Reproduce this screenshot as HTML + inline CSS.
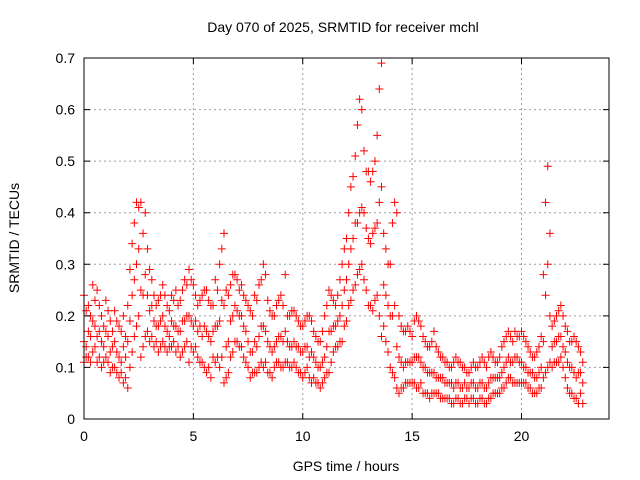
<!DOCTYPE html>
<html><head><meta charset="utf-8"><style>
html,body{margin:0;padding:0;background:#fff}
svg{display:block;font-family:"Liberation Sans",sans-serif}
</style></head><body>
<svg id="chart" width="640" height="480" viewBox="0 0 640 480">
<rect width="640" height="480" fill="#fff"/>
<g id="grid"></g>
<g id="pts"></g>
<g id="axes"></g>
<text x="343" y="32" font-size="14" text-anchor="middle">Day 070 of 2025, SRMTID for receiver mchl</text>
<text x="346" y="471" font-size="14" text-anchor="middle">GPS time / hours</text>
<text transform="translate(19,238) rotate(-90)" font-size="14" text-anchor="middle">SRMTID / TECUs</text>
</svg>
<script>
const times=[0.0,0.2,0.4,0.6,0.8,1.0,1.2,1.4,1.6,1.8,2.0,2.2,2.4,2.6,2.8,3.0,3.2,3.4,3.6,3.8,4.0,4.2,4.4,4.6,4.8,5.0,5.2,5.4,5.6,5.8,6.0,6.2,6.4,6.6,6.8,7.0,7.2,7.4,7.6,7.8,8.0,8.2,8.4,8.6,8.8,9.0,9.2,9.4,9.6,9.8,10.0,10.2,10.4,10.6,10.8,11.0,11.2,11.4,11.6,11.8,12.0,12.2,12.4,12.6,12.8,13.0,13.2,13.4,13.6,13.8,14.0,14.2,14.4,14.6,14.8,15.0,15.2,15.4,15.6,15.8,16.0,16.2,16.4,16.6,16.8,17.0,17.2,17.4,17.6,17.8,18.0,18.2,18.4,18.6,18.8,19.0,19.2,19.4,19.6,19.8,20.0,20.2,20.4,20.6,20.8,21.0,21.2,21.4,21.6,21.8,22.0,22.2,22.4,22.6,22.8];
const hiVals=[.24,.22,.26,.25,.20,.23,.19,.21,.18,.20,.22,.34,.42,.42,.40,.29,.24,.23,.26,.22,.24,.25,.23,.27,.29,.26,.22,.24,.25,.22,.27,.30,.36,.24,.28,.27,.26,.23,.21,.24,.26,.30,.23,.20,.22,.24,.28,.20,.21,.19,.18,.20,.19,.16,.15,.20,.25,.23,.24,.30,.35,.45,.51,.62,.52,.48,.48,.55,.69,.33,.30,.42,.20,.17,.18,.16,.20,.18,.15,.14,.17,.13,.12,.11,.10,.12,.11,.10,.09,.11,.10,.12,.10,.13,.11,.12,.15,.17,.15,.16,.17,.15,.13,.12,.14,.28,.49,.18,.20,.22,.18,.15,.16,.14,.11];
const midVals=[.15,.17,.19,.16,.15,.17,.13,.15,.12,.14,.15,.24,.30,.25,.28,.21,.19,.18,.20,.17,.19,.18,.17,.19,.20,.18,.17,.16,.17,.15,.18,.19,.22,.15,.20,.21,.20,.17,.13,.15,.16,.18,.15,.13,.15,.16,.17,.14,.15,.14,.13,.14,.13,.11,.10,.12,.17,.18,.19,.22,.27,.33,.38,.40,.40,.35,.36,.38,.45,.24,.20,.22,.12,.10,.11,.11,.12,.11,.10,.09,.09,.08,.08,.07,.07,.07,.06,.07,.06,.07,.06,.07,.06,.08,.08,.08,.10,.12,.11,.12,.11,.10,.09,.08,.09,.15,.30,.14,.15,.16,.13,.10,.09,.09,.07];
const loVals=[.11,.12,.13,.11,.10,.12,.09,.10,.08,.07,.06,.13,.18,.12,.16,.15,.14,.13,.15,.13,.14,.13,.12,.14,.11,.13,.12,.11,.09,.08,.11,.10,.07,.09,.13,.15,.14,.11,.08,.09,.10,.10,.09,.08,.11,.10,.11,.10,.11,.09,.08,.10,.07,.07,.06,.08,.09,.13,.14,.15,.19,.23,.26,.29,.27,.22,.21,.24,.16,.15,.10,.08,.05,.06,.07,.07,.06,.07,.05,.04,.05,.05,.04,.04,.03,.04,.03,.04,.03,.04,.03,.04,.03,.04,.05,.05,.06,.08,.07,.07,.07,.07,.06,.05,.06,.08,.10,.10,.11,.12,.08,.05,.04,.03,.03];
const times2=[0.1,0.3,0.5,0.7,0.9,1.1,1.3,1.5,1.7,1.9,2.1,2.3,2.5,2.7,2.9,3.1,3.3,3.5,3.7,3.9,4.1,4.3,4.5,4.7,4.9,5.1,5.3,5.5,5.7,5.9,6.1,6.3,6.5,6.7,6.9,7.1,7.3,7.5,7.7,7.9,8.1,8.3,8.5,8.7,8.9,9.1,9.3,9.5,9.7,9.9,10.1,10.3,10.5,10.7,10.9,11.1,11.3,11.5,11.7,11.9,12.1,12.3,12.5,12.7,12.9,13.1,13.3,13.5,13.7,13.9,14.1,14.3,14.5,14.7,14.9,15.1,15.3,15.5,15.7,15.9,16.1,16.3,16.5,16.7,16.9,17.1,17.3,17.5,17.7,17.9,18.1,18.3,18.5,18.7,18.9,19.1,19.3,19.5,19.7,19.9,20.1,20.3,20.5,20.7,20.9,21.1,21.3,21.5,21.7,21.9,22.1,22.3,22.5,22.7];
const hiVals2=[.21,.20,.23,.22,.18,.21,.17,.19,.17,.16,.29,.38,.41,.36,.33,.27,.22,.24,.24,.21,.23,.22,.25,.26,.27,.24,.23,.25,.23,.22,.25,.33,.25,.26,.28,.25,.24,.22,.20,.23,.27,.28,.21,.20,.23,.22,.20,.21,.20,.18,.19,.20,.17,.15,.17,.22,.24,.22,.27,.33,.40,.47,.57,.60,.48,.46,.50,.64,.36,.30,.38,.40,.18,.17,.17,.19,.19,.16,.14,.15,.14,.12,.11,.10,.11,.11,.10,.09,.10,.10,.11,.11,.12,.12,.11,.14,.16,.16,.17,.16,.16,.14,.12,.13,.16,.42,.36,.19,.21,.20,.17,.15,.15,.13];
const midVals2=[.14,.16,.18,.17,.14,.16,.14,.13,.11,.12,.19,.27,.33,.24,.24,.22,.18,.19,.18,.16,.18,.17,.19,.20,.19,.19,.18,.18,.16,.17,.18,.23,.14,.19,.22,.20,.18,.15,.13,.14,.18,.17,.14,.14,.16,.15,.15,.14,.14,.13,.14,.12,.12,.10,.11,.14,.17,.18,.20,.25,.30,.35,.38,.41,.37,.34,.37,.42,.26,.22,.20,.14,.11,.11,.11,.12,.12,.10,.09,.09,.08,.08,.07,.07,.06,.07,.06,.06,.07,.06,.07,.06,.07,.08,.08,.09,.11,.11,.12,.11,.10,.09,.09,.08,.10,.24,.20,.15,.16,.14,.11,.10,.08,.09];
const loVals2=[.12,.11,.14,.12,.11,.11,.10,.09,.09,.08,.10,.16,.20,.14,.17,.16,.15,.14,.14,.14,.15,.14,.13,.15,.14,.14,.11,.10,.10,.12,.12,.12,.08,.12,.15,.14,.12,.10,.09,.09,.11,.11,.09,.10,.11,.10,.11,.10,.10,.09,.09,.08,.08,.07,.07,.09,.11,.14,.15,.18,.22,.25,.28,.30,.25,.22,.23,.20,.18,.13,.09,.06,.06,.07,.07,.07,.06,.05,.05,.05,.05,.04,.04,.04,.03,.04,.03,.04,.04,.03,.04,.03,.04,.05,.05,.06,.07,.08,.07,.07,.07,.06,.05,.05,.06,.09,.11,.11,.11,.10,.06,.05,.04,.05];
const xTicks=[0,5,10,15,20];
const yTicks=[0,0.1,0.2,0.3,0.4,0.5,0.6,0.7];
const yTickLabels=["0","0.1","0.2","0.3","0.4","0.5","0.6","0.7"];

const L=84,R=609,T=58,B=419,XMAX=24,YMAX=0.7;
const xs=v=>L+v/XMAX*(R-L);
const ys=v=>B-v/YMAX*(B-T);
const NS="http://www.w3.org/2000/svg";
function mk(tag,parent,attrs){const e=document.createElementNS(NS,tag);for(const k in attrs)e.setAttribute(k,attrs[k]);parent.appendChild(e);return e;}
const grid=document.getElementById('grid'),axes=document.getElementById('axes'),pts=document.getElementById('pts');
xTicks.forEach(t=>{
  const x=xs(t);
  if(t>0){const g=mk('line',grid,{x1:x,x2:x,y1:T,y2:B,stroke:'#a0a0a0','stroke-dasharray':'2,3'});
  
  }
  const tk=mk('path',axes,{d:`M${x},${B}v-6M${x},${T}v6`,stroke:'#000'});
  
  
  const lb=mk('text',axes,{x:x,y:B+22,'font-size':14,'text-anchor':'middle'});lb.textContent=t;
  
  
});
yTicks.forEach((t,i)=>{
  const y=ys(t);
  if(t>0&&t<YMAX){const g=mk('line',grid,{x1:L,x2:R,y1:y,y2:y,stroke:'#a0a0a0','stroke-dasharray':'2,3'});
  
  }
  const tk=mk('path',axes,{d:`M${L},${y}h6M${R},${y}h-6`,stroke:'#000'});
  
  
  const lb=mk('text',axes,{x:L-9,y:y+5,'font-size':14,'text-anchor':'end'});lb.textContent=yTickLabels[i];
  
  
});
const fr=mk('rect',axes,{x:L,y:T,width:R-L,height:B-T,fill:'none',stroke:'#000'});


function plus(x,y,c){const p=mk('path',pts,{d:`M${x-4},${y}h8M${x},${y-4}v8`,stroke:c,'stroke-width':1});
  
  }
[loVals,midVals,hiVals].forEach(arr=>{
  times.forEach((t,i)=>{plus(xs(t),ys(arr[i]),'#ff0000');});
});
[loVals2,midVals2,hiVals2].forEach(arr=>{
  times2.forEach((t,i)=>{plus(xs(t),ys(arr[i]),'#ff0000');});
});
</script>
</body></html>
